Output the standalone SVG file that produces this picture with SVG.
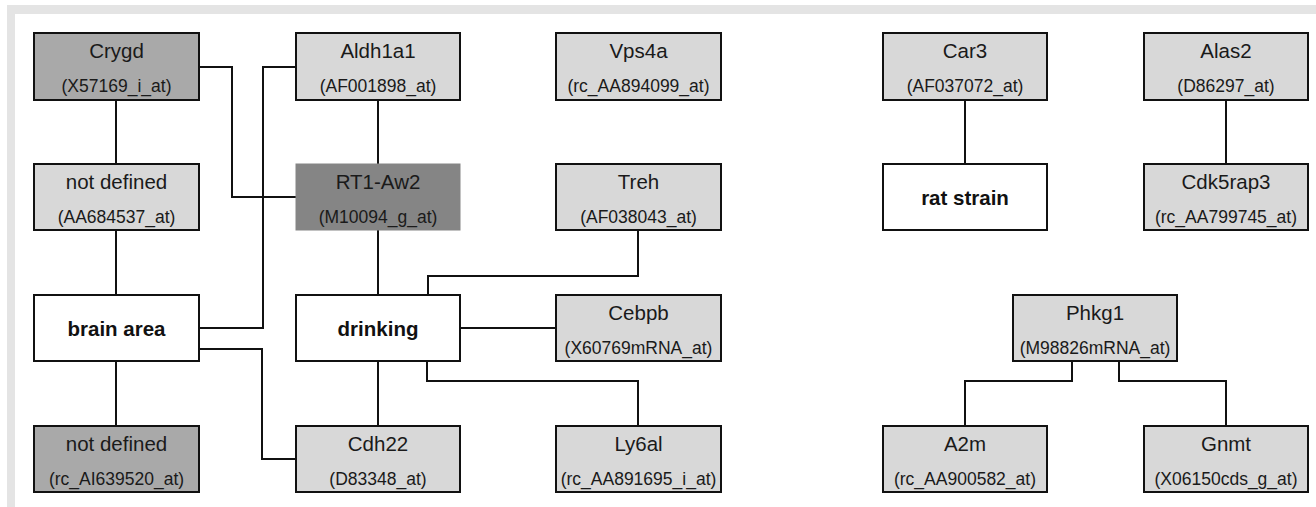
<svg xmlns="http://www.w3.org/2000/svg" width="1316" height="507" viewBox="0 0 1316 507">
<style>
.b{stroke:#111;stroke-width:2}
.l{fill:#d8d8d8}
.m{fill:#a9a9a9}
.d{fill:#858585;stroke:#858585}
.w{fill:#fff}
.t{font-family:"Liberation Sans",Arial,sans-serif;font-size:20.5px;fill:#1a1a1a;text-anchor:middle}
.s{font-family:"Liberation Sans",Arial,sans-serif;font-size:17.5px;fill:#1a1a1a;text-anchor:middle}
.bt{font-family:"Liberation Sans",Arial,sans-serif;font-size:20.5px;font-weight:bold;fill:#111;text-anchor:middle}
#edges path{fill:none;stroke:#111;stroke-width:2}
</style>
<rect x="0" y="0" width="1316" height="507" fill="#fff"/>
<rect x="7" y="5" width="1309" height="9" fill="#e4e4e4"/>
<rect x="7" y="5" width="8" height="502" fill="#e4e4e4"/>
<g id="edges">
<path d="M116,100V164"/>
<path d="M116,230V295"/>
<path d="M116,361V426"/>
<path d="M199,67H232V197H296"/>
<path d="M296,67H263V328H199"/>
<path d="M199,349H262V459H296"/>
<path d="M378,100V164"/>
<path d="M378,230V295"/>
<path d="M378,361V426"/>
<path d="M638,230V276H428V295"/>
<path d="M460,328H556"/>
<path d="M427,361V381H638V426"/>
<path d="M965,100V164"/>
<path d="M1226,100V164"/>
<path d="M1072,361V381H965V426"/>
<path d="M1119,361V381H1226V426"/>
</g>
<g id="n-crygd"><rect class="b m" x="34" y="33" width="165" height="67"/><text class="t" x="116.5" y="58">Crygd</text><text class="s" x="116.5" y="92">(X57169_i_at)</text></g>
<g id="n-aldh1a1"><rect class="b l" x="296" y="33" width="164" height="67"/><text class="t" x="378" y="58">Aldh1a1</text><text class="s" x="378" y="92">(AF001898_at)</text></g>
<g id="n-vps4a"><rect class="b l" x="556" y="33" width="165" height="67"/><text class="t" x="638.5" y="58">Vps4a</text><text class="s" x="638.5" y="92">(rc_AA894099_at)</text></g>
<g id="n-car3"><rect class="b l" x="883" y="33" width="164" height="67"/><text class="t" x="965" y="58">Car3</text><text class="s" x="965" y="92">(AF037072_at)</text></g>
<g id="n-alas2"><rect class="b l" x="1144" y="33" width="164" height="67"/><text class="t" x="1226" y="58">Alas2</text><text class="s" x="1226" y="92">(D86297_at)</text></g>
<g id="n-notdef1"><rect class="b l" x="34" y="164" width="165" height="66"/><text class="t" x="116.5" y="189">not defined</text><text class="s" x="116.5" y="223">(AA684537_at)</text></g>
<g id="n-rt1aw2"><rect class="d" x="296" y="164" width="164" height="66"/><text class="t" x="378" y="189">RT1-Aw2</text><text class="s" x="378" y="223">(M10094_g_at)</text></g>
<g id="n-treh"><rect class="b l" x="556" y="164" width="165" height="66"/><text class="t" x="638.5" y="189">Treh</text><text class="s" x="638.5" y="223">(AF038043_at)</text></g>
<g id="n-ratstrain"><rect class="b w" x="883" y="164" width="164" height="66"/><text class="bt" x="965" y="205">rat strain</text></g>
<g id="n-cdk5rap3"><rect class="b l" x="1144" y="164" width="164" height="66"/><text class="t" x="1226" y="189">Cdk5rap3</text><text class="s" x="1226" y="223">(rc_AA799745_at)</text></g>
<g id="n-brainarea"><rect class="b w" x="34" y="295" width="165" height="66"/><text class="bt" x="116.5" y="336">brain area</text></g>
<g id="n-drinking"><rect class="b w" x="296" y="295" width="164" height="66"/><text class="bt" x="378" y="336">drinking</text></g>
<g id="n-cebpb"><rect class="b l" x="556" y="295" width="165" height="66"/><text class="t" x="638.5" y="320">Cebpb</text><text class="s" x="638.5" y="354">(X60769mRNA_at)</text></g>
<g id="n-phkg1"><rect class="b l" x="1013" y="295" width="164" height="66"/><text class="t" x="1095" y="320">Phkg1</text><text class="s" x="1095" y="354">(M98826mRNA_at)</text></g>
<g id="n-notdef2"><rect class="b m" x="34" y="426" width="165" height="66"/><text class="t" x="116.5" y="451">not defined</text><text class="s" x="116.5" y="485">(rc_AI639520_at)</text></g>
<g id="n-cdh22"><rect class="b l" x="296" y="426" width="164" height="66"/><text class="t" x="378" y="451">Cdh22</text><text class="s" x="378" y="485">(D83348_at)</text></g>
<g id="n-ly6al"><rect class="b l" x="556" y="426" width="165" height="66"/><text class="t" x="638.5" y="451">Ly6al</text><text class="s" x="638.5" y="485">(rc_AA891695_i_at)</text></g>
<g id="n-a2m"><rect class="b l" x="883" y="426" width="164" height="66"/><text class="t" x="965" y="451">A2m</text><text class="s" x="965" y="485">(rc_AA900582_at)</text></g>
<g id="n-gnmt"><rect class="b l" x="1144" y="426" width="164" height="66"/><text class="t" x="1226" y="451">Gnmt</text><text class="s" x="1226" y="485">(X06150cds_g_at)</text></g>
</svg>
